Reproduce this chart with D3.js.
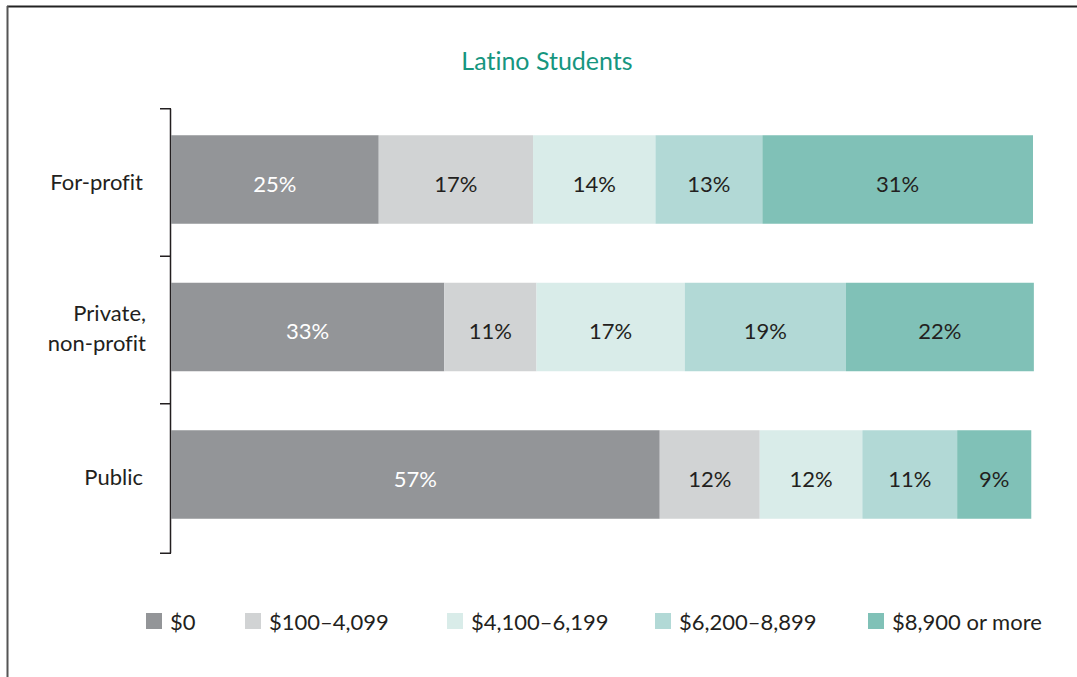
<!DOCTYPE html>
<html lang="en">
<head>
  <meta charset="UTF-8">
  <title>Latino Students</title>
  <script src="https://d3js.org/d3.v7.min.js"></script>
  <style>
    body { margin: 0; background: #fff; }
    svg text { font-family: Lato, 'Open Sans', sans-serif; font-variant-ligatures: none; }
  </style>
</head>
<body>
  <script>
    // Data
    const sectors = ["For-profit", "Private, non-profit", "Public"];
    const bins = ["$0", "$100–4,099", "$4,100–6,199", "$6,200–8,899", "$8,900 or more"];
    const colors = ["#939598", "#d1d3d4", "#d9ece9", "#b2d9d6", "#80c1b7"];
    // shares as drawn (unrounded), and labels as printed
    const shares = [
      [24.1, 17.9, 14.2, 12.4, 31.4],
      [31.7, 10.7, 17.2, 18.7, 21.8],
      [56.7, 11.6, 11.9, 11.0, 8.6]
    ];
    const labels = [
      [25, 17, 14, 13, 31],
      [33, 11, 17, 19, 22],
      [57, 12, 12, 11, 9]
    ];

    const W = 1077, H = 677;
    const svg = d3.select("body").append("svg").attr("width", W).attr("height", H);

    // frame
    svg.append("line").attr("x1", 7).attr("x2", W).attr("y1", 6.5).attr("y2", 6.5)
      .attr("stroke", "#222").attr("stroke-width", 2);
    svg.append("line").attr("x1", 7.5).attr("x2", 7.5).attr("y1", 6).attr("y2", H)
      .attr("stroke", "#555").attr("stroke-width", 2);

    svg.append("text").attr("x", 547).attr("y", 70).attr("text-anchor", "middle")
      .attr("fill", "#16967f").style("font-size", "25px").text("Latino Students");

    const x = d3.scaleLinear().domain([0, 100]).range([171, 1033]);
    const y = d3.scaleBand().domain(sectors).range([91, 563]).paddingInner(0.4).paddingOuter(0.3);

    // axis bracket
    const gap = y.step() - y.bandwidth();
    const tickYs = sectors.map(s => y(s) - gap / 2 + 3).concat([y(sectors[2]) + y.bandwidth() + gap / 2 + 5]);
    const axis = svg.append("g").attr("stroke", "#231f20").attr("stroke-width", 1.5).attr("fill", "none");
    axis.append("line").attr("x1", 170.5).attr("x2", 170.5).attr("y1", tickYs[0]).attr("y2", tickYs[3]);
    axis.selectAll(".tick").data(tickYs).enter().append("line")
      .attr("x1", 160).attr("x2", 171).attr("y1", d => d).attr("y2", d => d);

    // category labels
    sectors.forEach((s, i) => {
      const cy = y(s) + y.bandwidth() / 2;
      const t = svg.append("text").attr("text-anchor", "end").attr("fill", "#231f20")
        .style("font-size", "22px");
      if (s === "Private, non-profit") {
        t.append("tspan").attr("x", 146).attr("y", cy - 6).text("Private,");
        t.append("tspan").attr("x", 146).attr("y", cy + 24).text("non-profit");
      } else {
        t.attr("x", 143).attr("y", cy + 10).text(s);
      }
    });

    // bars
    const rows = svg.selectAll(".row").data(sectors).enter().append("g").attr("class", "row");
    rows.each(function (s, i) {
      let acc = 0;
      const segs = shares[i].map((v, j) => {
        const seg = { x0: acc, x1: acc + v, j, label: labels[i][j] };
        acc += v;
        return seg;
      });
      const g = d3.select(this);
      g.selectAll("rect").data(segs).enter().append("rect")
        .attr("x", d => x(d.x0))
        .attr("width", d => x(d.x1) - x(d.x0))
        .attr("y", y(s))
        .attr("height", y.bandwidth())
        .attr("fill", d => colors[d.j]);
      g.selectAll("text").data(segs).enter().append("text")
        .attr("x", d => (x(d.x0) + x(d.x1)) / 2)
        .attr("y", y(s) + y.bandwidth() / 2 + 12)
        .attr("text-anchor", "middle")
        .style("font-size", "22px")
        .attr("fill", d => d.j === 0 ? "#fff" : "#231f20")
        .text(d => d.label + "%");
    });

    // legend
    const legX = [146, 245, 447, 655, 868];
    const leg = svg.selectAll(".leg").data(bins).enter().append("g")
      .attr("transform", (d, i) => `translate(${legX[i]},613)`);
    leg.append("rect").attr("width", 16).attr("height", 16).attr("fill", (d, i) => colors[i]);
    leg.append("text").attr("x", 24).attr("y", 17).style("font-size", "22px")
      .attr("fill", "#231f20").text(d => d);
  </script>
</body>
</html>
